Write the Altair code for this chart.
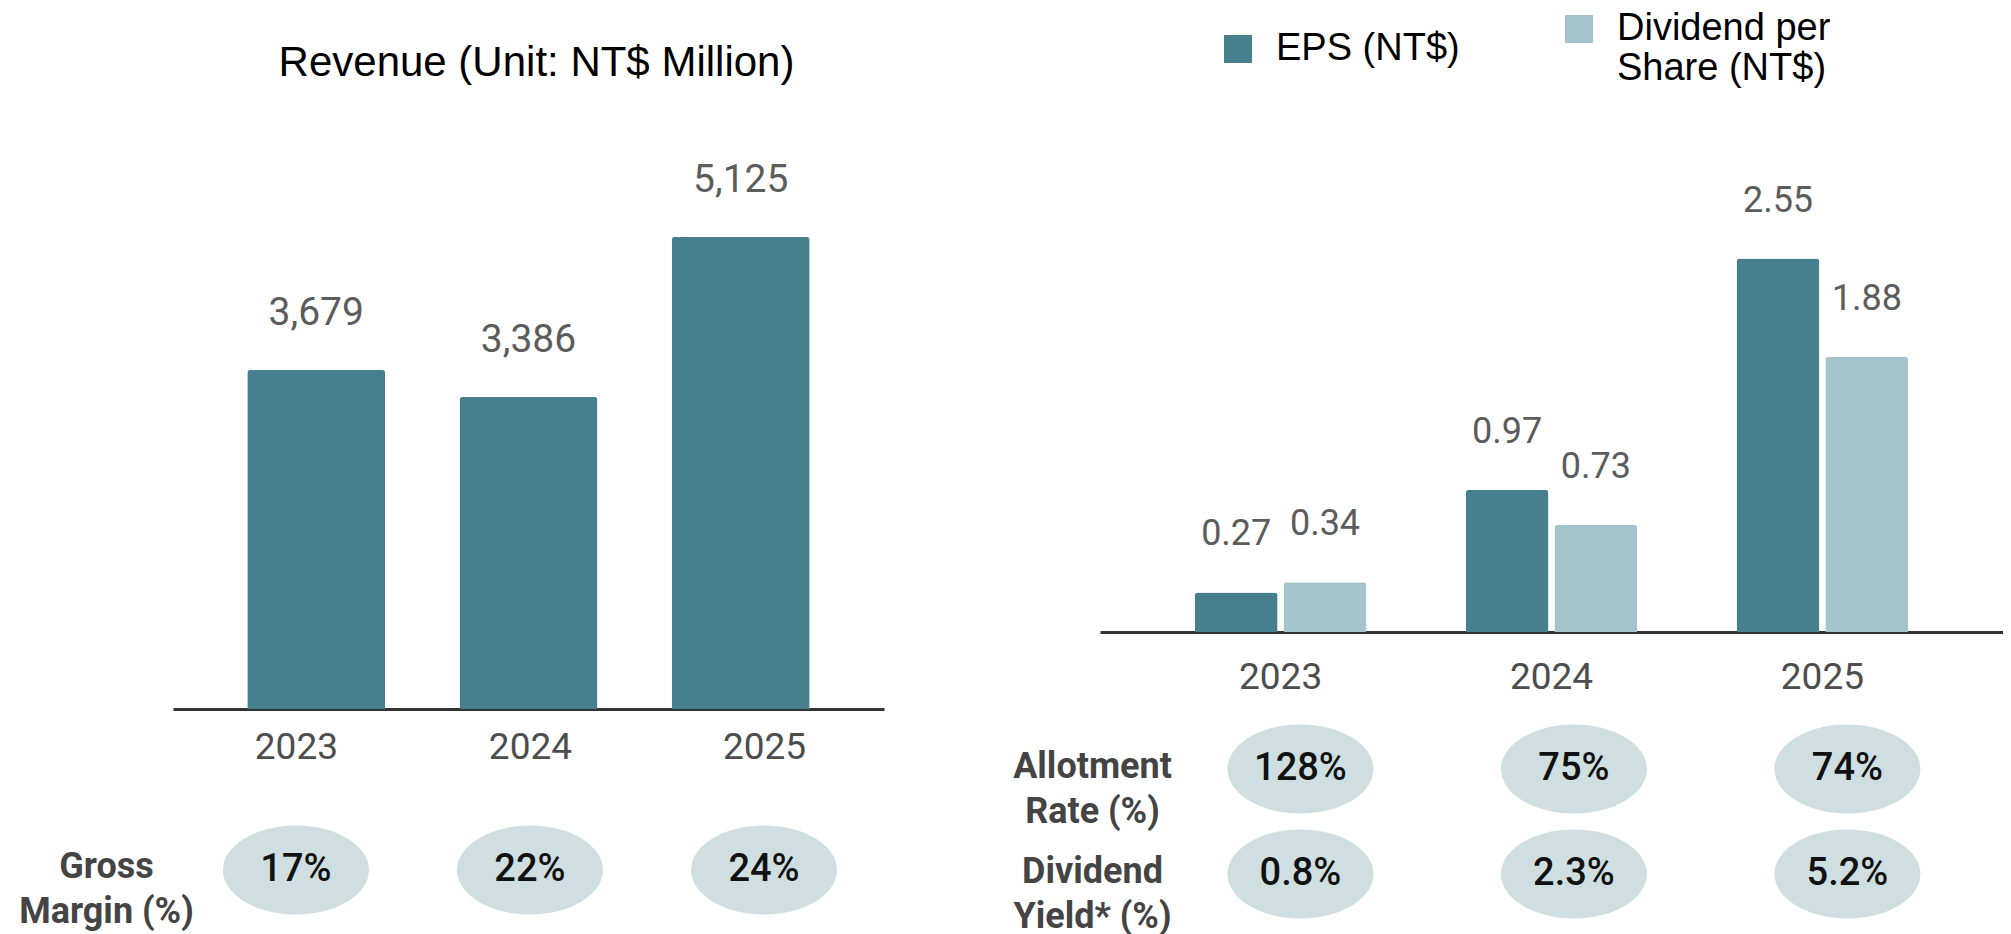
import altair as alt
import pandas as pd

# ---------------- data ----------------
years = ["2023", "2024", "2025"]
revenue = [3679, 3386, 5125]
gross_margin = ["17%", "22%", "24%"]
eps = [0.27, 0.97, 2.55]
dps = [0.34, 0.73, 1.88]
allotment_rate = ["128%", "75%", "74%"]
dividend_yield = ["0.8%", "2.3%", "5.2%"]

revenue_title = "Revenue (Unit: NT$ Million)"
series_names = ["EPS (NT$)", "Dividend per Share (NT$)"]
left_rows = ["Gross Margin (%)"]
right_rows = ["Allotment Rate (%)", "Dividend Yield* (%)"]

# ---------------- styles ----------------
DARK = "#46808e"
LIGHT = "#a3c4ca"
PILL = "#cfdfe1"
AXIS = "#333333"
LABEL = "#4d4d4d"
VALUE = "#5c5c5c"
ROWLBL = "#444444"

ELLIPSE = ("M -1 0 C -1 -0.3369 -0.5523 -0.61 0 -0.61 "
           "C 0.5523 -0.61 1 -0.3369 1 0 "
           "C 1 0.3369 0.5523 0.61 0 0.61 "
           "C -0.5523 0.61 -1 0.3369 -1 0 Z")

split_expr = ("[substring(datum.label, 0, indexof(datum.label, ' ')), "
              "substring(datum.label, indexof(datum.label, ' ') + 1)]")
legend_expr = ("indexof(datum.label, ' Share') > 0 ? "
               "[substring(datum.label, 0, indexof(datum.label, ' Share')), "
               "substring(datum.label, indexof(datum.label, ' Share') + 1)] : datum.label")

rev_df = pd.DataFrame({"year": years, "revenue": revenue})
gm_df = pd.DataFrame({"year": years, "metric": left_rows * 3, "text": gross_margin})
eps_df = pd.DataFrame({
    "year": years * 2,
    "series": [series_names[0]] * 3 + [series_names[1]] * 3,
    "value": eps + dps,
})
ratio_df = pd.DataFrame({
    "year": years * 2,
    "metric": [right_rows[0]] * 3 + [right_rows[1]] * 3,
    "text": allotment_rate + dividend_yield,
})

# ---------------- top-left: revenue ----------------
x_rev = alt.X("year:N", sort=years, title=None,
              scale=alt.Scale(paddingInner=0.35, paddingOuter=0.35),
              axis=alt.Axis(labels=False, ticks=False, tickSize=0, domain=True,
                            domainColor=AXIS, domainWidth=3, grid=False))
y_rev = alt.Y("revenue:Q", scale=alt.Scale(domain=[0, 6000]), axis=None)
rev_base = alt.Chart(rev_df)
rev_bars = rev_base.mark_bar(color=DARK, cornerRadiusTopLeft=3, cornerRadiusTopRight=3).encode(x=x_rev, y=y_rev)
rev_text = rev_base.mark_text(font="Roboto", fontSize=39, color=VALUE, baseline="alphabetic", dy=-45).encode(
    x=x_rev, y=y_rev, text=alt.Text("revenue:Q", format=","))
top_left = alt.layer(rev_bars, rev_text).properties(
    width=711, height=553,
    title=alt.TitleParams(revenue_title, font="Liberation Sans", fontSize=42, fontWeight="normal",
                          color="black", anchor="middle", offset=71, dx=8))

# ---------------- bottom-left: gross margin ----------------
x_gm = alt.X("year:N", sort=years, title=None,
             scale=alt.Scale(type="point", padding=0.519, align=0.506),
             axis=alt.Axis(orient="top", domain=False, ticks=False, tickSize=0, labelPadding=64,
                           labelFont="Roboto", labelFontSize=37, labelColor=LABEL, labelAngle=0, grid=False))
y_gm = alt.Y("metric:N", title=None, scale=alt.Scale(type="point", padding=0),
             axis=alt.Axis(domain=False, ticks=False, tickSize=0, labelPadding=67, labelAlign="center",
                           labelFont="Roboto", labelFontSize=36, labelFontWeight="bold", labelColor=ROWLBL,
                           labelExpr=split_expr, labelLineHeight=45, labelOffset=-4, labelLimit=400, grid=False))
gm_base = alt.Chart(gm_df)
gm_pill = gm_base.mark_point(shape=ELLIPSE, size=21316, filled=True, color=PILL, opacity=1, strokeWidth=0).encode(x=x_gm, y=y_gm)
gm_text = gm_base.mark_text(font="Roboto", fontSize=38, fontWeight=500, color="#111111", baseline="middle").encode(
    x=x_gm, y=y_gm, text="text:N")
bottom_left = alt.layer(gm_pill, gm_text).properties(width=711, height=80)

# ---------------- top-right: EPS / DPS ----------------
x_eps = alt.X("year:N", sort=years, title=None,
              scale=alt.Scale(paddingInner=0.3665, paddingOuter=0.35),
              axis=alt.Axis(domainColor=AXIS, domainWidth=3, ticks=False, tickSize=0, labelPadding=27,
                            labelFont="Roboto", labelFontSize=37, labelColor=LABEL, labelAngle=0, grid=False))
xo_eps = alt.XOffset("series:N", sort=series_names, scale=alt.Scale(paddingInner=0.067, paddingOuter=0))
y_eps = alt.Y("value:Q", scale=alt.Scale(domain=[0, 3.25]), axis=None)
color_eps = alt.Color("series:N", sort=series_names,
                      scale=alt.Scale(domain=series_names, range=[DARK, LIGHT]),
                      legend=alt.Legend(title=None, orient="none", legendX=119, legendY=-146,
                                        direction="horizontal", symbolType="square", symbolSize=784,
                                        symbolStrokeWidth=0, labelFont="Liberation Sans", labelFontSize=38,
                                        labelColor="black", labelOffset=19, columnPadding=100,
                                        labelLimit=600, labelExpr=legend_expr, padding=0))
eps_base = alt.Chart(eps_df)
eps_bars = eps_base.mark_bar(cornerRadiusTopLeft=3, cornerRadiusTopRight=3).encode(
    x=x_eps, xOffset=xo_eps, y=y_eps, color=color_eps)
eps_text = eps_base.mark_text(font="Roboto", fontSize=36, color=VALUE, baseline="alphabetic", dy=-47).encode(
    x=x_eps, xOffset=xo_eps, y=y_eps, text=alt.Text("value:Q", format=".2f"))
top_right = alt.layer(eps_bars, eps_text).properties(width=903, height=476)

# ---------------- bottom-right: allotment / yield ----------------
x_r = alt.X("year:N", sort=years, title=None,
            scale=alt.Scale(type="point", padding=0.651, align=0.563), axis=None)
y_r = alt.Y("metric:N", sort=right_rows, title=None, scale=alt.Scale(type="point", padding=0),
            axis=alt.Axis(domain=False, ticks=False, tickSize=0, labelPadding=8, labelAlign="center",
                          labelFont="Roboto", labelFontSize=36, labelFontWeight="bold", labelColor=ROWLBL,
                          labelExpr=split_expr, labelLineHeight=45, labelOffset=-3, labelLimit=400, grid=False))
r_base = alt.Chart(ratio_df)
r_pill = r_base.mark_point(shape=ELLIPSE, size=21316, filled=True, color=PILL, opacity=1, strokeWidth=0).encode(x=x_r, y=y_r)
r_text = r_base.mark_text(font="Roboto", fontSize=38, fontWeight=500, color="#111111", baseline="middle").encode(
    x=x_r, y=y_r, text="text:N")
bottom_right = alt.layer(r_pill, r_text).properties(width=903, height=105)

# ---------------- layout ----------------
left_col = alt.vconcat(top_left, bottom_left, spacing=121, bounds="flush").resolve_scale(
    x="independent", y="independent")
right_col = alt.vconcat(top_right, bottom_right, spacing=137, bounds="flush").resolve_scale(
    x="independent", y="independent").resolve_legend(color="independent")
chart = alt.hconcat(left_col, right_col, spacing=128).resolve_scale(
    x="independent", y="independent").resolve_legend(color="independent").configure_view(
    stroke=None).configure_axis(grid=False).properties(
    padding={"left": 10, "top": 2, "right": 0, "bottom": 0})

chart.save("out.html", embed_options={"renderer": "svg", "actions": False})
